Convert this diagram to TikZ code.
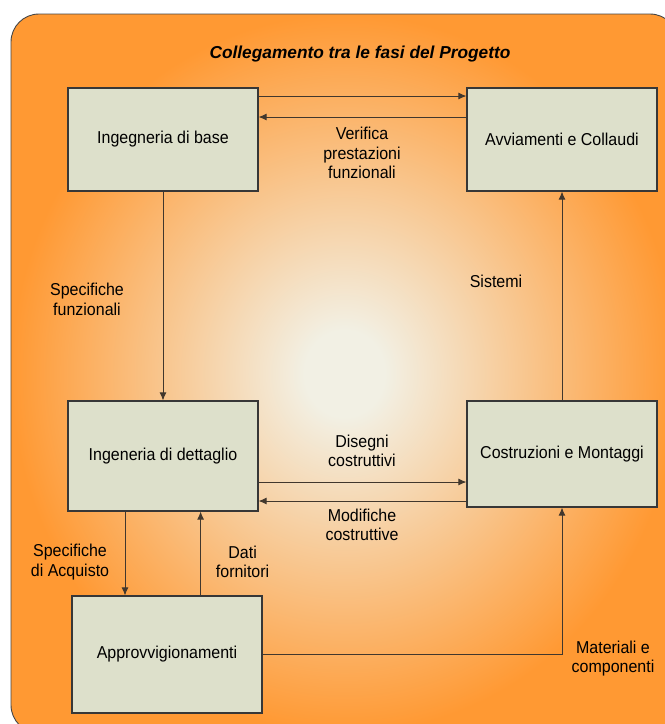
\documentclass[tikz,border=0pt]{standalone}
\usepackage{fontspec}
\setmainfont{Liberation Sans}[FakeStretch=0.93]
\newfontfamily\titlefont{Liberation Sans}
\usetikzlibrary{arrows.meta}
\definecolor{bgcenter}{RGB}{242,240,228}
\definecolor{bgedge}{RGB}{255,153,51}
\definecolor{boxfill}{RGB}{221,224,203}
\definecolor{boxline}{RGB}{55,55,55}
\definecolor{arrline}{RGB}{65,55,45}
\definecolor{frameline}{RGB}{70,70,70}
\pgfdeclareradialshading{bgshade}{\pgfpoint{0bp}{0bp}}{color(0bp)=(bgcenter); color(3bp)=(bgcenter); color(25bp)=(bgedge); color(50bp)=(bgedge)}
\begin{document}
\begin{tikzpicture}[x=1pt,y=-1pt,
  stage/.style={draw=boxline, line width=1.1pt, fill=boxfill, minimum width=190pt, inner sep=0pt, font=\fontsize{17.2}{19.5}\selectfont},
  flow/.style={draw=arrline, line width=1pt, -{Latex[length=8pt,width=7pt]}},
  lbl/.style={align=center, font=\fontsize{17.2}{19.5}\selectfont, inner sep=0pt}]
\useasboundingbox (0,0) rectangle (665,724);
\clip (0,0) rectangle (665,724);
\shade[shading=bgshade, rounded corners=28pt] (11,14) rectangle (678,733);
\draw[draw=frameline, line width=0.9pt, rounded corners=28pt] (11,14) rectangle (678,733);

\node[anchor=base, font=\titlefont\fontsize{17.3}{20}\selectfont\bfseries\itshape] (title) at (360,58.5) {Collegamento tra le fasi del Progetto};

\node[stage, minimum height=103pt] (b1) at (163,139.5) {Ingegneria di base};
\node[stage, minimum height=103pt] (b2) at (562,139.5) {Avviamenti e Collaudi};
\node[stage, minimum height=110pt] (b3) at (163,456) {Ingeneria di dettaglio};
\node[stage, minimum height=106pt] (b4) at (562,454) {Costruzioni e Montaggi};
\node[stage, minimum height=117pt] (b5) at (167,654.5) {Approvvigionamenti};

\draw[flow] (b1.east |- 0,96) -- (b2.west |- 0,96);
\draw[flow] (b2.west |- 0,117) -- (b1.east |- 0,117);
\draw[flow] (b1.south) -- (b3.north);
\draw[flow] (b4.north) -- (b2.south);
\draw[flow] (b3.east |- 0,482) -- (b4.west |- 0,482);
\draw[flow] (b4.west |- 0,501) -- (b3.east |- 0,501);
\draw[flow] (b3.south -| 125,0) -- (b5.north -| 125,0);
\draw[flow] (b5.north -| 200.6,0) -- (b3.south -| 200.6,0);
\draw[flow] (b5.east) -- (b5.east -| b4.south) -- (b4.south);

\node[lbl] (l1) at (362,153) {Verifica\\prestazioni\\funzionali};
\node[lbl] (l2) at (87,299.5) {Specifiche\\funzionali};
\node[lbl] (l3) at (496,281) {Sistemi};
\node[lbl] (l4) at (362,451) {Disegni\\costruttivi};
\node[lbl] (l5) at (362,525) {Modifiche\\costruttive};
\node[lbl] (l6) at (70,562) {Specifiche\\di Acquisto};
\node[lbl] (l7) at (242.6,562) {Dati\\fornitori};
\node[lbl] (l8) at (613,658.5) {Materiali e\\componenti};
\end{tikzpicture}
\end{document}
